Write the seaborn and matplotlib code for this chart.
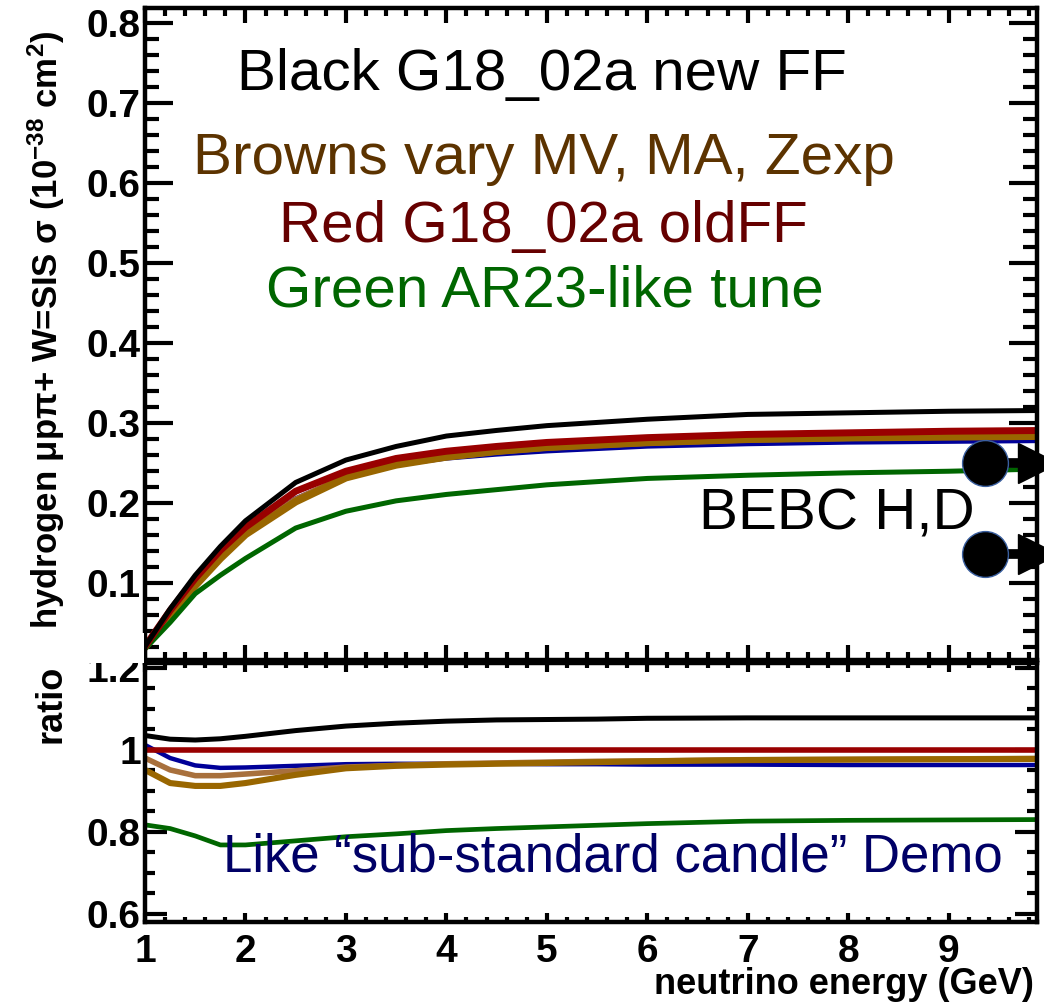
import matplotlib
matplotlib.use("Agg")
import matplotlib.pyplot as plt
import pandas as pd
import seaborn as sns
from matplotlib.patches import Rectangle
from matplotlib.ticker import MultipleLocator, FuncFormatter

# neutrino energy grid (GeV)
energy = [1.0, 1.25, 1.5, 1.75, 2.0, 2.5, 3.0, 3.5, 4.0, 4.5, 5.0, 5.5, 6.0, 7.0, 8.0, 9.0, 10.0]

# cross sections (1e-38 cm^2)
xsec_black = [0.021, 0.068, 0.110, 0.146, 0.178, 0.226, 0.254, 0.271, 0.284, 0.291, 0.297, 0.301, 0.305, 0.311, 0.313, 0.315, 0.316]
xsec_red = [0.021, 0.066, 0.106, 0.141, 0.170, 0.215, 0.240, 0.256, 0.265, 0.271, 0.276, 0.279, 0.282, 0.286, 0.288, 0.290, 0.291]
xsec_blue = [0.021, 0.063, 0.102, 0.136, 0.165, 0.206, 0.233, 0.248, 0.256, 0.261, 0.265, 0.268, 0.271, 0.274, 0.276, 0.277, 0.278]
xsec_tan = [0.021, 0.061, 0.099, 0.133, 0.163, 0.204, 0.233, 0.249, 0.258, 0.265, 0.270, 0.273, 0.276, 0.280, 0.282, 0.284, 0.285]
xsec_brown = [0.020, 0.058, 0.097, 0.131, 0.161, 0.202, 0.232, 0.248, 0.258, 0.265, 0.270, 0.273, 0.276, 0.280, 0.282, 0.283, 0.284]
xsec_green = [0.018, 0.051, 0.087, 0.110, 0.131, 0.169, 0.190, 0.203, 0.211, 0.217, 0.223, 0.227, 0.231, 0.235, 0.238, 0.240, 0.243]

# ratio to G18_02a oldFF
ratio_black = [1.035, 1.026, 1.024, 1.027, 1.033, 1.047, 1.058, 1.065, 1.070, 1.073, 1.074, 1.075, 1.077, 1.078, 1.078, 1.078, 1.078]
ratio_red = [1.0] * len(energy)
ratio_blue = [1.012, 0.980, 0.962, 0.956, 0.957, 0.961, 0.965, 0.966, 0.966, 0.966, 0.965, 0.965, 0.964, 0.964, 0.963, 0.963, 0.963]
ratio_tan = [0.980, 0.951, 0.937, 0.937, 0.941, 0.949, 0.958, 0.962, 0.966, 0.968, 0.970, 0.972, 0.973, 0.976, 0.977, 0.978, 0.979]
ratio_brown = [0.951, 0.919, 0.912, 0.912, 0.919, 0.939, 0.955, 0.961, 0.964, 0.966, 0.968, 0.970, 0.972, 0.975, 0.976, 0.977, 0.978]
ratio_green = [0.817, 0.808, 0.790, 0.768, 0.768, 0.778, 0.788, 0.795, 0.803, 0.808, 0.812, 0.816, 0.820, 0.826, 0.828, 0.829, 0.830]

# BEBC H,D points (lower limits -> arrows)
bebc_x = [9.36, 9.36]
bebc_y = [0.250, 0.136]
bebc_arrow_x = 9.89

# name: (color, top lw, ratio lw)
styles = {
    "blue": ("#000099", 3.2, 3.2),
    "tan": ("#a8703c", 5.0, 4.0),
    "brown": ("#996600", 5.5, 4.4),
    "green": ("#006600", 3.6, 3.4),
    "red": ("#990000", 5.0, 4.0),
    "black": ("#000000", 3.6, 3.6),
}
xsec = {"black": xsec_black, "red": xsec_red, "blue": xsec_blue,
        "tan": xsec_tan, "brown": xsec_brown, "green": xsec_green}
ratio = {"black": ratio_black, "red": ratio_red, "blue": ratio_blue,
         "tan": ratio_tan, "brown": ratio_brown, "green": ratio_green}

notes = [
    ("Black G18_02a new FF", "#000000", 4.95, 0.717),
    ("Browns vary MV, MA, Zexp", "#5c3300", 4.97, 0.611),
    ("Red G18_02a oldFF", "#660000", 4.97, 0.526),
    ("Green AR23-like tune", "#006600", 4.98, 0.446),
]

sns.set_theme(style="ticks")
plt.rcParams["font.family"] = ["Liberation Sans", "DejaVu Sans"]
plt.rcParams["font.weight"] = "bold"
plt.rcParams["mathtext.default"] = "regular"
plt.rcParams["axes.linewidth"] = 3.2
for k in ("text.color", "axes.labelcolor", "xtick.color", "ytick.color", "axes.edgecolor"):
    plt.rcParams[k] = "black"

fig = plt.figure(figsize=(10.44, 10.06), dpi=100)
ax = fig.add_axes([0.1389, 0.3439, 0.8544, 0.6481])
axr = fig.add_axes([0.1389, 0.0835, 0.8544, 0.2575])

fmt = FuncFormatter(lambda v, p: f"{v:g}")

for name, (c, lw, lwr) in styles.items():
    df = pd.DataFrame({"E": energy, "xs": xsec[name], "r": ratio[name]})
    sns.lineplot(data=df, x="E", y="xs", ax=ax, color=c, linewidth=lw, errorbar=None)
    sns.lineplot(data=df, x="E", y="r", ax=axr, color=c, linewidth=lwr, errorbar=None)

# BEBC points with arrows
for bx, by in zip(bebc_x, bebc_y):
    ax.plot([bx, bebc_arrow_x], [by, by], color="black", lw=7, solid_capstyle="butt", clip_on=False, zorder=5)
    ax.plot(bebc_arrow_x, by, marker=">", ms=29, color="black", lw=0, clip_on=False, zorder=6)
sns.scatterplot(x=bebc_x, y=bebc_y, ax=ax, s=33 ** 2, color="black", edgecolor="#3a5f9f", linewidth=1, zorder=7)
ax.text(9.26, 0.167, "BEBC H,D", fontsize=42, fontweight="normal", ha="right", va="baseline")

for txt, c, tx, ty in notes:
    ax.text(tx, ty, txt, color=c, fontsize=42, fontweight="normal", ha="center", va="baseline")

axr.text(5.66, 0.703, "Like \u201csub-standard candle\u201d Demo", color="#000066",
         fontsize=38, fontweight="normal", ha="center", va="baseline")

# top panel axes
ax.set_xlim(1, 9.88)
ax.set_ylim(0.004, 0.819)
ax.yaxis.set_major_locator(MultipleLocator(0.1))
ax.yaxis.set_minor_locator(MultipleLocator(0.02))
ax.xaxis.set_major_locator(MultipleLocator(1))
ax.xaxis.set_minor_locator(MultipleLocator(0.2))
ax.yaxis.set_major_formatter(fmt)
ax.tick_params(axis="both", which="both", direction="in", top=True, right=True, width=3, color="black")
ax.tick_params(axis="y", which="major", length=20, labelsize=28, pad=3)
ax.tick_params(axis="y", which="minor", length=10)
ax.tick_params(axis="x", which="major", length=11, labelbottom=False)
ax.tick_params(axis="x", which="minor", length=6)
ax.set_xlabel("")
ax.set_ylabel("hydrogen \u03bcp\u03c0+ W=SIS \u03c3 (10$^{-38}$ cm$^{2}$)", fontsize=25, fontweight="bold", loc="top")
ax.yaxis.set_label_coords(-0.088, 0.966)

# ratio panel axes
axr.set_xlim(1, 9.88)
axr.set_ylim(0.58, 1.212)
axr.yaxis.set_major_locator(MultipleLocator(0.2))
axr.yaxis.set_minor_locator(MultipleLocator(0.05))
axr.xaxis.set_major_locator(MultipleLocator(1))
axr.xaxis.set_minor_locator(MultipleLocator(0.2))
axr.yaxis.set_major_formatter(fmt)
axr.xaxis.set_major_formatter(fmt)
axr.tick_params(axis="both", which="both", direction="in", top=True, right=True, width=3, color="black")
axr.tick_params(axis="y", which="major", length=16, labelsize=28, pad=3)
axr.tick_params(axis="y", which="minor", length=7)
axr.tick_params(axis="x", which="major", length=6.5, labelsize=28, pad=9)
axr.tick_params(axis="x", which="minor", length=3.5)
axr.set_xlabel("neutrino energy (GeV)", fontsize=26, fontweight="bold", loc="right")
axr.xaxis.set_label_coords(0.997, -0.175)
axr.set_ylabel("ratio", fontsize=26, fontweight="bold", loc="top")
axr.yaxis.set_label_coords(-0.086, 0.992)

# top panel pad hides the upper half of the "1.2" label
fig.patches.append(Rectangle((0.05, 0.341), 0.088, 0.03, transform=fig.transFigure,
                             facecolor="white", edgecolor="none", zorder=5))

fig.savefig("out.png", dpi=100)
